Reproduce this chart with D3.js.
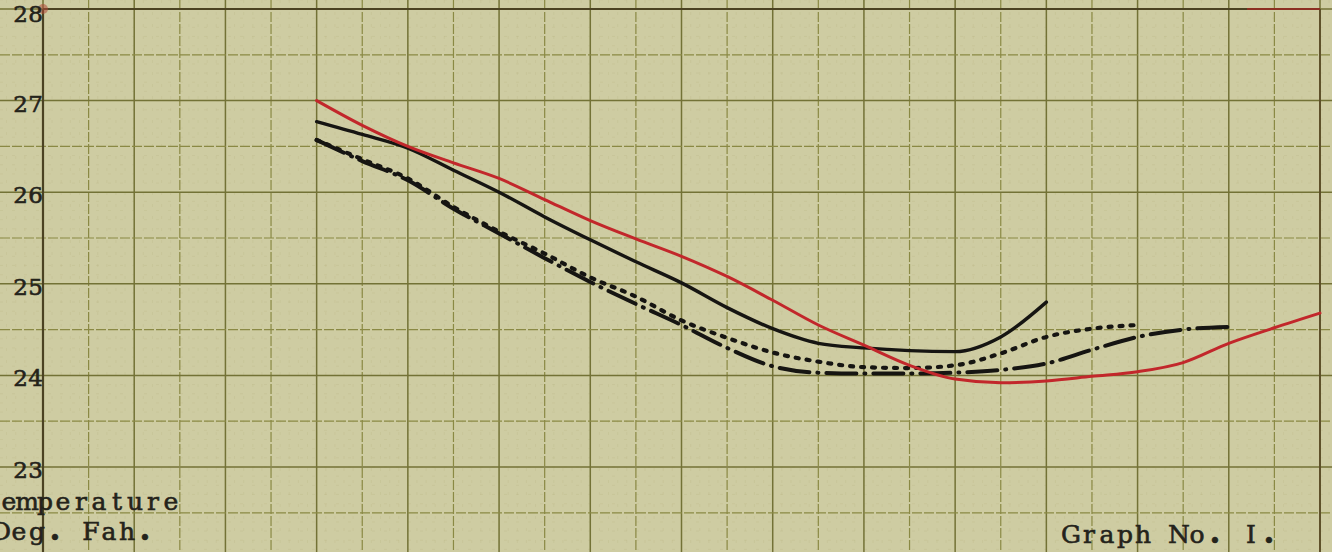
<!DOCTYPE html>
<html>
<head>
<meta charset="utf-8">
<script src="https://cdn.jsdelivr.net/npm/d3@7"></script>
<style>
  html, body { margin: 0; padding: 0; background: #cecca2; }
  svg { display: block; }
</style>
</head>
<body>
<svg id="chart" width="1332" height="552"></svg>
<script>
// Readings taken at each grid step along the horizontal scale
const steps = [6, 7, 8, 9, 10, 11, 12, 13, 14, 15, 16, 17, 18, 19, 20, 21, 22, 23, 24, 25, 26, 27, 28];

// Temperature (deg. Fah.) for each curve, starting at step 6
const redCurve = [27.0, 26.73, 26.5, 26.32, 26.15, 25.92, 25.69, 25.49, 25.3, 25.08, 24.82, 24.55,
                  24.33, 24.11, 23.96, 23.92, 23.94, 23.99, 24.04, 24.14, 24.35, 24.52, 24.68];
const solidCurve = [26.77, 26.63, 26.48, 26.24, 26.0, 25.73, 25.48, 25.24, 25.01, 24.74, 24.51, 24.35,
                    24.3, 24.27, 24.26, 24.42, 24.8];
const dottedCurve = [26.57, 26.36, 26.15, 25.84, 25.57, 25.33, 25.07, 24.86, 24.6, 24.41, 24.25, 24.15,
                     24.09, 24.08, 24.11, 24.24, 24.42, 24.51, 24.55];
const dashDotCurve = [26.57, 26.34, 26.13, 25.82, 25.55, 25.28, 25.02, 24.78, 24.55, 24.3, 24.1, 24.03,
                      24.02, 24.02, 24.03, 24.06, 24.13, 24.28, 24.42, 24.5, 24.53];

// Temperature scale labels
const tempTicks = [28, 27, 26, 25, 24, 23];

const svg = d3.select("#chart");
const W = 1332, H = 552;

const x = d3.scaleLinear().domain([0, 28]).range([43, 1320]);
const y = d3.scaleLinear().domain([23, 28]).range([467, 9]);

// paper background
svg.append("rect").attr("width", W).attr("height", H).attr("fill", "#cecca2");

const grid = svg.append("g");

// faint fine ruling of the paper
const fineX = d3.range(-1, 29.01, 0.2);
const fineY = d3.range(21.9, 28.21, 0.1);
grid.selectAll(".fx").data(fineX).join("line")
  .attr("x1", d => x(d)).attr("x2", d => x(d)).attr("y1", 0).attr("y2", H)
  .attr("stroke", "#a8a66c").attr("stroke-width", 0.8).attr("stroke-opacity", 0.18)
  .attr("stroke-dasharray", "3 9");
grid.selectAll(".fy").data(fineY).join("line")
  .attr("y1", d => y(d)).attr("y2", d => y(d)).attr("x1", 0).attr("x2", W)
  .attr("stroke", "#a8a66c").attr("stroke-width", 0.8).attr("stroke-opacity", 0.18)
  .attr("stroke-dasharray", "3 9");

// ruled lines every grid step (vertical) and every half degree (horizontal)
const vLines = d3.range(-1, 29, 1);
const hLines = d3.range(22, 28.01, 0.5);
grid.selectAll(".vl").data(vLines).join("line")
  .attr("x1", d => x(d)).attr("x2", d => x(d)).attr("y1", 0).attr("y2", H)
  .attr("stroke", d => d % 2 === 0 ? "#737236" : "#8a8944")
  .attr("stroke-width", d => d % 2 === 0 ? 1.5 : 1.2)
  .attr("stroke-dasharray", d => d % 2 === 0 ? null : "10 2");
grid.selectAll(".hl").data(hLines).join("line")
  .attr("y1", d => y(d)).attr("y2", d => y(d)).attr("x1", 0).attr("x2", W)
  .attr("stroke", d => Number.isInteger(d) ? "#737236" : "#8a8944")
  .attr("stroke-width", d => Number.isInteger(d) ? 1.5 : 1.2)
  .attr("stroke-dasharray", d => Number.isInteger(d) ? null : "10 2");

// frame: temperature axis, top rule, right edge
const frame = svg.append("g").attr("stroke", "#4b4222").attr("stroke-width", 2.2);
frame.append("line").attr("x1", x(0)).attr("x2", x(0)).attr("y1", y(28)).attr("y2", H);
frame.append("line").attr("x1", x(0)).attr("x2", x(28)).attr("y1", y(28)).attr("y2", y(28));
frame.append("line").attr("x1", x(28)).attr("x2", x(28)).attr("y1", y(28)).attr("y2", H)
  .attr("stroke", "#5a4b26").attr("stroke-width", 1.8);
// red ink traces along the top rule
frame.append("line").attr("x1", x(26.4)).attr("x2", x(28)).attr("y1", y(28)).attr("y2", y(28))
  .attr("stroke", "#9c2a22").attr("stroke-width", 2.2).attr("stroke-opacity", 0.8);
svg.append("circle").attr("cx", x(0)).attr("cy", y(28)).attr("r", 5)
  .attr("fill", "#b04a3a").attr("fill-opacity", 0.55);

// typewriter-style text: every character sits in its own fixed-width cell
const font = "'DejaVu Serif', serif";
function typewrite(parent, x0, baseline, str, pitch, size, anchorEnd) {
  const chars = Array.from(str);
  const start = anchorEnd ? x0 - pitch * chars.length : x0;
  const t = parent.append("text")
    .attr("y", baseline)
    .attr("font-family", font)
    .attr("font-size", size)
    .attr("fill", "#24231b").attr("stroke", "#24231b").attr("stroke-width", 0.6)
    .attr("text-anchor", "middle");
  t.selectAll("tspan").data(chars).join("tspan")
    .attr("x", (c, i) => start + pitch * (i + 0.5))
    .attr("font-weight", c => c === "." ? "bold" : null)
    .attr("font-size", c => c === "." ? size * 1.25 : size)
    .text(c => c);
  return t;
}

// temperature labels
const labels = svg.append("g");
tempTicks.forEach(d => typewrite(labels, x(0), Math.max(y(d) + 11, 22), String(d), 15, 23, true));

// curves
const line = (vals) => d3.line()
  .x((d, i) => x(steps[i]))
  .y(d => y(d))
  .curve(d3.curveMonotoneX)(vals);

const curves = svg.append("g").attr("fill", "none").attr("stroke-linecap", "round").attr("stroke-linejoin", "round");

curves.append("path").attr("d", line(dashDotCurve))
  .attr("stroke", "#161512").attr("stroke-width", 4)
  .attr("stroke-dasharray", "30 8 1 8");
curves.append("path").attr("d", line(dottedCurve))
  .attr("stroke", "#161512").attr("stroke-width", 4.2)
  .attr("stroke-dasharray", "3 8");
curves.append("path").attr("d", line(solidCurve))
  .attr("stroke", "#161512").attr("stroke-width", 3.4);
curves.append("path").attr("d", line(redCurve))
  .attr("stroke", "#c2272b").attr("stroke-width", 3);

// axis title and graph number
const notes = svg.append("g");
typewrite(notes, -18, 510, "Temperature", 18, 25, false);
typewrite(notes, -8, 540, "Deg. Fah.", 18, 25, false);
typewrite(notes, 1062, 543, "Graph No. I.", 18, 25, false);
</script>
</body>
</html>
